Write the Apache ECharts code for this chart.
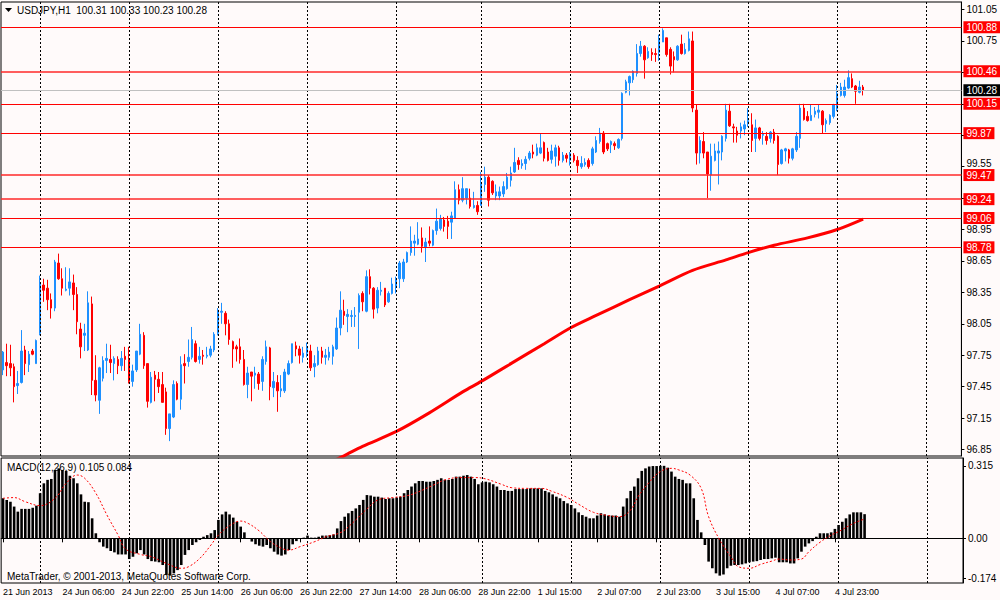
<!DOCTYPE html>
<html><head><meta charset="utf-8">
<script src="https://cdn.jsdelivr.net/npm/echarts@6/dist/echarts.min.js"></script>
<style>html,body{margin:0;padding:0;background:#FFFAFA}#c{width:1000px;height:600px}</style>
</head><body><div id="c"></div>
<script>
const FONT = '"Liberation Sans", Arial, sans-serif';
const symbolTitle = 'USDJPY,H1  100.31 100.33 100.23 100.28';
const macdTitle = 'MACD(12,26,9) 0.105 0.084';
const copyright = 'MetaTrader, \u00A9 2001-2013, MetaQuotes Software Corp.';

const open = [97.61,97.68,97.67,97.64,97.46,97.49,97.80,97.66,97.79,97.67,
97.96,98.42,98.39,98.28,98.20,98.63,98.48,98.37,98.39,98.44,
98.33,98.00,97.94,97.80,98.24,97.51,97.32,97.53,97.70,97.71,
97.67,97.71,97.65,97.74,97.71,97.50,97.61,97.76,97.94,97.67,
97.30,97.56,97.52,97.47,97.40,97.05,97.16,97.48,97.33,97.67,
97.69,97.73,97.86,97.71,97.75,97.74,97.75,97.80,97.96,98.16,
98.15,98.05,97.88,97.83,97.83,97.71,97.47,97.59,97.56,97.57,
97.50,97.69,97.82,97.44,97.49,97.41,97.41,97.57,97.68,97.84,
97.81,97.73,97.77,97.79,97.64,97.66,97.79,97.73,97.73,97.74,
97.81,98.01,98.17,98.12,98.12,98.12,98.16,98.34,98.17,98.50,
98.39,98.20,98.36,98.39,98.26,98.34,98.41,98.48,98.48,98.64,
98.73,98.82,98.81,98.87,98.78,98.84,98.80,98.94,98.96,99.04,
99.03,99.02,99.06,99.33,99.23,99.25,99.25,99.16,99.18,99.18,
99.38,99.45,99.41,99.27,99.27,99.29,99.34,99.42,99.50,99.61,
99.56,99.58,99.63,99.69,99.66,99.68,99.78,99.69,99.62,99.65,
99.73,99.61,99.66,99.61,99.66,99.61,99.55,99.57,99.61,99.58,
99.69,99.79,99.87,99.77,99.76,99.77,99.73,99.82,100.26,100.35,
100.38,100.44,100.63,100.70,100.59,100.64,100.63,100.64,100.74,100.78,
100.67,100.60,100.57,100.72,100.63,100.66,100.75,100.09,99.68,99.79,
99.69,99.47,99.61,99.68,99.69,99.82,100.08,99.93,99.89,99.89,
99.91,99.96,99.95,99.82,99.92,99.85,99.84,99.82,99.88,99.84,
99.58,99.70,99.71,99.63,99.71,99.82,100.11,100.03,99.99,100.05,
100.07,100.08,99.96,99.97,100.03,100.10,100.23,100.23,100.30,100.39,
100.32,100.26,100.31];

const close = [97.78,97.65,97.63,97.45,97.48,97.79,97.67,97.76,97.76,97.89,
98.43,98.37,98.28,98.20,98.64,98.48,98.39,98.38,98.45,98.33,
98.07,97.83,97.96,98.25,97.51,97.37,97.63,97.70,97.72,97.68,
97.72,97.65,97.72,97.71,97.50,97.60,97.79,97.95,97.65,97.31,
97.54,97.52,97.45,97.30,97.05,97.19,97.47,97.33,97.66,97.65,
97.73,97.90,97.69,97.74,97.74,97.75,97.81,97.95,98.18,98.17,
98.05,97.90,97.81,97.81,97.71,97.47,97.58,97.55,97.58,97.48,
97.71,97.83,97.45,97.50,97.41,97.43,97.59,97.67,97.86,97.81,
97.75,97.77,97.83,97.63,97.67,97.79,97.73,97.75,97.78,97.83,
98.01,98.18,98.13,98.14,98.13,98.13,98.32,98.26,98.50,98.39,
98.19,98.37,98.37,98.23,98.34,98.43,98.48,98.63,98.64,98.73,
98.84,98.84,98.86,98.79,98.83,98.82,98.94,99.03,99.05,98.98,
98.98,99.08,99.33,99.23,99.34,99.34,99.17,99.18,99.12,99.39,
99.45,99.23,99.30,99.31,99.31,99.36,99.45,99.49,99.59,99.57,
99.58,99.62,99.68,99.67,99.73,99.73,99.63,99.61,99.70,99.73,
99.61,99.66,99.63,99.68,99.61,99.56,99.58,99.59,99.55,99.72,
99.80,99.87,99.69,99.72,99.79,99.75,99.81,100.25,100.36,100.41,
100.46,100.63,100.70,100.57,100.65,100.62,100.62,100.76,100.85,100.62,
100.51,100.57,100.70,100.63,100.67,100.77,100.11,99.68,99.80,99.68,
99.48,99.65,99.70,99.70,99.84,100.09,99.94,99.92,99.85,99.93,
99.95,99.99,99.80,99.92,99.82,99.86,99.80,99.88,99.80,99.57,
99.71,99.72,99.63,99.72,99.84,100.11,100.00,99.99,100.04,100.08,
100.09,99.95,99.99,100.04,100.14,100.25,100.31,100.31,100.40,100.31,
100.27,100.31,100.28];

const high = [97.79,97.86,97.85,97.67,97.60,97.99,97.84,97.79,97.81,97.90,
98.51,98.48,98.47,98.34,98.66,98.72,98.58,98.59,98.58,98.52,
98.40,98.06,98.05,98.36,98.31,97.75,97.64,97.74,97.86,97.85,
97.74,97.74,97.79,97.83,97.83,97.66,97.79,98.05,97.97,97.67,
97.59,97.60,97.59,97.59,97.44,97.19,97.51,97.50,97.74,97.76,
97.90,98.02,97.89,97.83,97.80,97.83,97.84,97.97,98.20,98.25,
98.17,98.09,97.89,97.85,97.91,97.80,97.64,97.59,97.64,97.59,
97.74,97.89,97.83,97.59,97.56,97.56,97.62,97.70,97.86,97.88,
97.84,97.83,97.87,97.85,97.75,97.83,97.83,97.81,97.83,97.85,
98.11,98.36,98.28,98.19,98.18,98.21,98.34,98.36,98.56,98.57,
98.40,98.40,98.45,98.39,98.36,98.49,98.50,98.65,98.67,98.74,
98.98,98.90,99.02,98.97,98.87,98.98,98.95,99.15,99.09,99.07,
99.08,99.12,99.41,99.38,99.45,99.34,99.34,99.31,99.22,99.50,
99.55,99.47,99.42,99.38,99.36,99.41,99.49,99.55,99.73,99.64,
99.62,99.65,99.70,99.76,99.77,99.87,99.79,99.73,99.76,99.76,
99.75,99.69,99.68,99.69,99.68,99.65,99.65,99.63,99.63,99.74,
99.84,99.92,99.89,99.78,99.80,99.79,99.82,100.26,100.38,100.42,
100.47,100.72,100.75,100.71,100.69,100.68,100.68,100.81,100.87,100.78,
100.69,100.65,100.71,100.81,100.73,100.84,100.84,100.14,99.84,99.88,
99.69,99.77,99.77,99.79,99.85,100.15,100.15,99.96,99.93,99.97,
99.99,100.11,100.06,100.00,99.93,99.89,99.88,99.89,99.91,99.85,
99.72,99.73,99.72,99.73,99.88,100.15,100.15,100.08,100.14,100.12,
100.14,100.09,100.01,100.05,100.15,100.33,100.35,100.38,100.47,100.44,
100.33,100.37,100.33];

const low = [97.56,97.55,97.55,97.30,97.38,97.48,97.56,97.59,97.75,97.67,
97.94,98.26,98.18,98.10,98.17,98.47,98.32,98.36,98.32,98.18,
97.95,97.72,97.79,97.79,97.37,97.31,97.19,97.50,97.58,97.58,
97.51,97.57,97.60,97.60,97.48,97.45,97.59,97.75,97.62,97.25,
97.29,97.31,97.39,97.30,96.99,96.93,97.15,97.32,97.23,97.48,
97.64,97.71,97.68,97.67,97.66,97.72,97.73,97.78,97.94,98.05,
97.94,97.85,97.63,97.69,97.67,97.46,97.34,97.31,97.43,97.42,
97.41,97.66,97.32,97.35,97.21,97.35,97.39,97.56,97.67,97.74,
97.67,97.68,97.73,97.60,97.54,97.65,97.67,97.66,97.70,97.66,
97.80,97.94,98.04,97.97,98.02,98.02,97.81,98.17,98.16,98.33,
98.10,98.15,98.32,98.21,98.25,98.33,98.34,98.39,98.45,98.63,
98.70,98.70,98.80,98.73,98.64,98.79,98.79,98.90,98.94,98.93,
98.86,98.86,99.06,99.19,99.21,99.19,99.15,99.15,99.09,99.18,
99.31,99.17,99.28,99.23,99.23,99.26,99.33,99.36,99.49,99.52,
99.53,99.52,99.61,99.63,99.65,99.67,99.60,99.60,99.58,99.55,
99.56,99.59,99.59,99.56,99.59,99.49,99.53,99.55,99.53,99.56,
99.68,99.77,99.67,99.70,99.68,99.71,99.72,99.80,100.25,100.23,
100.35,100.41,100.60,100.39,100.58,100.56,100.55,100.56,100.74,100.60,
100.43,100.45,100.56,100.62,100.62,100.65,100.07,99.57,99.58,99.63,
99.25,99.32,99.60,99.38,99.61,99.79,99.93,99.78,99.78,99.82,
99.85,99.93,99.69,99.69,99.80,99.76,99.76,99.78,99.77,99.47,
99.57,99.60,99.58,99.61,99.69,99.73,99.99,99.98,99.99,100.02,
100.01,99.87,99.88,99.95,100.01,100.08,100.22,100.21,100.29,100.30,
100.15,100.25,100.23];

const maPoints = [[86,96.69],[92,96.79],[97,96.88],[106,97.02],[115,97.20],[124,97.40],[129,97.50],
[137,97.67],[146,97.86],[153,98.01],[160,98.13],[169,98.28],[177,98.41],[186,98.56],[195,98.66],
[201,98.73],[208,98.80],[217,98.87],[225,98.95],[232,99.05]];

const macdMain = [0.174,0.167,0.159,0.138,0.116,0.128,0.128,0.128,0.133,0.142,
0.196,0.239,0.254,0.258,0.297,0.304,0.297,0.293,0.272,0.261,
0.239,0.191,0.159,0.157,0.087,0.022,-0.017,-0.036,-0.043,-0.055,
-0.061,-0.070,-0.070,-0.070,-0.090,-0.080,-0.065,-0.051,-0.070,-0.090,
-0.099,-0.101,-0.104,-0.116,-0.159,-0.162,-0.152,-0.138,-0.116,-0.072,
-0.051,-0.029,-0.017,-0.007,0.007,0.014,0.022,0.036,0.080,0.104,
0.116,0.104,0.090,0.072,0.051,0.026,0.000,-0.014,-0.026,-0.032,
-0.036,-0.029,-0.043,-0.058,-0.070,-0.075,-0.070,-0.051,-0.026,-0.012,
-0.003,0.003,0.012,0.003,0.003,0.007,0.012,0.012,0.014,0.017,
0.043,0.075,0.094,0.109,0.119,0.130,0.145,0.167,0.188,0.186,
0.181,0.181,0.177,0.171,0.174,0.174,0.177,0.181,0.196,0.210,
0.225,0.239,0.249,0.249,0.246,0.246,0.249,0.254,0.261,0.254,
0.254,0.258,0.268,0.268,0.272,0.275,0.268,0.258,0.235,0.243,
0.246,0.243,0.235,0.225,0.210,0.210,0.206,0.206,0.214,0.214,
0.214,0.214,0.217,0.217,0.217,0.217,0.206,0.200,0.191,0.181,
0.174,0.162,0.152,0.145,0.130,0.113,0.101,0.094,0.087,0.087,
0.099,0.109,0.104,0.099,0.099,0.099,0.094,0.138,0.174,0.206,
0.225,0.261,0.293,0.304,0.312,0.314,0.314,0.315,0.315,0.307,
0.290,0.268,0.258,0.254,0.239,0.239,0.174,0.080,0.026,-0.029,
-0.101,-0.130,-0.152,-0.162,-0.157,-0.130,-0.119,-0.116,-0.116,-0.113,
-0.109,-0.104,-0.101,-0.099,-0.094,-0.090,-0.090,-0.087,-0.084,-0.104,
-0.104,-0.104,-0.109,-0.109,-0.087,-0.058,-0.036,-0.022,-0.012,0.007,
0.022,0.022,0.022,0.026,0.041,0.058,0.072,0.087,0.104,0.113,
0.113,0.113,0.105];

const macdSignal = [[0,0.174],[3,0.177],[6,0.159],[10,0.142],[14,0.174],[17,0.239],[20,0.275],[22,0.261],
[25,0.196],[28,0.101],[31,0.014],[33,-0.046],[37,-0.070],[40,-0.080],[44,-0.109],[48,-0.130],[50,-0.123],
[53,-0.087],[56,-0.029],[58,0.014],[61,0.055],[64,0.075],[66,0.065],[69,0.032],[72,-0.014],[75,-0.043],
[77,-0.051],[80,-0.036],[84,-0.014],[87,0.007],[91,0.026],[94,0.065],[98,0.128],[101,0.167],[105,0.177],
[109,0.186],[112,0.203],[116,0.232],[119,0.254],[123,0.264],[127,0.264],[130,0.258],[134,0.236],[137,0.220],
[141,0.217],[145,0.217],[148,0.203],[152,0.177],[155,0.148],[159,0.113],[163,0.099],[166,0.094],[169,0.123],
[171,0.181],[174,0.243],[177,0.290],[180,0.304],[182,0.297],[185,0.275],[188,0.217],[190,0.094],[193,-0.007],
[196,-0.080],[198,-0.123],[201,-0.130],[204,-0.113],[207,-0.099],[209,-0.090],[212,-0.094],[215,-0.090],
[217,-0.058],[220,-0.017],[223,0.014],[225,0.029],[229,0.065],[232,0.084]];

const levels = [100.88, 100.46, 100.15, 99.87, 99.47, 99.24, 99.06, 98.78];
const thickLevels = [100.46, 99.47, 99.24];
const currentPrice = 100.28;
const priceTicks = [101.05,100.75,100.45,100.15,99.85,99.55,99.25,98.95,98.65,98.35,98.05,97.75,97.45,97.15,96.85];
const priceLabels = [101.05,100.75,99.55,98.95,98.65,98.35,98.05,97.75,97.45,97.15,96.85];
const raisedLabels = [99.55];
const macdTicks = [0.315, 0, -0.174];
const missingHours = ['2013-06-28 23'];
const TOTAL_SLOTS = 259;
const MONTHS = ['Jan','Feb','Mar','Apr','May','Jun','Jul','Aug','Sep','Oct','Nov','Dec'];

// hourly time slots (trading hours only)
const times = [];
let t = Date.UTC(2013, 5, 21, 14);
while (times.length < TOTAL_SLOTS) {
  const d = new Date(t);
  const wd = d.getUTCDay();
  const key = d.toISOString().slice(0, 10) + ' ' + String(d.getUTCHours()).padStart(2, '0');
  if (wd !== 0 && wd !== 6 && !missingHours.includes(key)) times.push(d);
  t += 3600000;
}
const categories = times.map((d, i) => i === 0
  ? `${d.getUTCDate()} ${MONTHS[d.getUTCMonth()]} ${d.getUTCFullYear()}`
  : `${d.getUTCDate()} ${MONTHS[d.getUTCMonth()]} ${String(d.getUTCHours()).padStart(2, '0')}:00`);
const dayStarts = times.map((d, i) => d.getUTCHours() === 0 ? i : -1).filter(i => i >= 0);
const nBars = open.length;
const showLabel = (i) => i % 16 === 0 && i < nBars;

const candleData = open.map((o, i) => [o, close[i], low[i], high[i]]);

const vLines = dayStarts.map(i => ({
  xAxis: categories[i],
  lineStyle: { color: '#000', width: 1, type: [2, 2] },
  label: { show: false }
}));

const hLines = levels.map(v => {
  const thick = thickLevels.includes(v);
  return {
    yAxis: v,
    lineStyle: { color: thick ? 'rgba(255,40,40,0.75)' : '#FF0000', width: thick ? 2 : 1, type: 'solid' },
    label: {
      show: true, position: 'end', distance: 2, formatter: v.toFixed(2),
      backgroundColor: '#FF0000', color: '#FFFFFF', padding: [1, 3, 0, 3],
      fontSize: 10, lineHeight: 11, fontFamily: FONT
    }
  };
});
hLines.push({
  yAxis: currentPrice,
  lineStyle: { color: '#C0C0C0', width: 1, type: 'solid' },
  label: {
    show: true, position: 'end', distance: 2, formatter: currentPrice.toFixed(2),
    backgroundColor: '#000000', color: '#FFFFFF', padding: [1, 3, 0, 3],
    fontSize: 10, lineHeight: 11, fontFamily: FONT
  }
});

const chart = echarts.init(document.getElementById('c'), null, { renderer: 'svg', width: 1000, height: 600 });

const axisText = { color: '#000', fontSize: 10, fontFamily: FONT };

chart.setOption({
  animation: false,
  backgroundColor: '#FFFAFA',
  grid: [
    { left: 1, top: 2, width: 962, height: 454, show: true, borderColor: '#000', borderWidth: 1, backgroundColor: 'transparent' },
    { left: 1, top: 458, width: 962, height: 125, show: true, borderColor: '#000', borderWidth: 1, backgroundColor: 'transparent' }
  ],
  xAxis: [
    { type: 'category', gridIndex: 0, data: categories, boundaryGap: true,
      axisLine: { show: false }, axisTick: { show: false }, axisLabel: { show: false }, splitLine: { show: false } },
    { type: 'category', gridIndex: 1, data: categories, boundaryGap: true,
      axisLine: { show: true, lineStyle: { color: '#000' } },
      axisTick: { show: true, alignWithLabel: true, interval: (i) => showLabel(i), length: 4, lineStyle: { color: '#000' } },
      axisLabel: { interval: (i) => showLabel(i), align: 'left', margin: 4, color: '#000', fontSize: 9, fontFamily: FONT },
      splitLine: { show: false } }
  ],
  yAxis: [
    { type: 'value', gridIndex: 0, position: 'right', min: 96.788, max: 101.122, scale: true,
      splitLine: { show: false },
      axisLine: { show: true, lineStyle: { color: '#000' } },
      axisTick: { show: true, length: 3, customValues: priceTicks, lineStyle: { color: '#000' } },
      axisLabel: Object.assign({
        customValues: priceLabels,
        formatter: (v) => raisedLabels.includes(Number(v.toFixed(2))) ? '{up|' + v.toFixed(2) + '}' : v.toFixed(2),
        rich: { up: { color: '#000', fontSize: 10, fontFamily: FONT, padding: [0, 0, 6, 0] } },
        margin: 5 }, axisText) },
    { type: 'value', gridIndex: 1, position: 'right', min: -0.194, max: 0.349,
      splitLine: { show: false },
      axisLine: { show: true, lineStyle: { color: '#000' } },
      axisTick: { show: true, length: 3, customValues: macdTicks, lineStyle: { color: '#000' } },
      axisLabel: Object.assign({ customValues: macdTicks, formatter: (v) => v === 0 ? '0.00' : String(v), margin: 5 }, axisText) }
  ],
  graphic: [
    { type: 'polygon', shape: { points: [[5, 8], [12, 8], [8.5, 12]] }, style: { fill: '#000' } },
    { type: 'text', x: 17, y: 10, style: { text: symbolTitle, fill: '#000', fontSize: 10, fontFamily: FONT, verticalAlign: 'middle' } },
    { type: 'text', x: 7, y: 467, style: { text: macdTitle, fill: '#000', fontSize: 10, fontFamily: FONT, verticalAlign: 'middle' } },
    { type: 'text', x: 7, y: 576, style: { text: copyright, fill: '#000', fontSize: 10, fontFamily: FONT, verticalAlign: 'middle' } }
  ],
  series: [
    { type: 'candlestick', name: 'USDJPY', xAxisIndex: 0, yAxisIndex: 0, data: candleData, barWidth: 2,
      itemStyle: { color: '#1E90FF', color0: '#FF0000', borderColor: '#1E90FF', borderColor0: '#FF0000', borderWidth: 1 },
      markLine: { silent: true, symbol: ['none', 'none'], animation: false, data: vLines.concat(hLines) },
      z: 3 },
    { type: 'line', name: 'MA', xAxisIndex: 0, yAxisIndex: 0, data: maPoints, showSymbol: false, smooth: 0.3,
      lineStyle: { color: '#FF0000', width: 3 }, clip: true, z: 4 },
    { type: 'bar', name: 'MACD', xAxisIndex: 1, yAxisIndex: 1, data: macdMain, barWidth: 2.6,
      itemStyle: { color: '#000' },
      markLine: { silent: true, symbol: ['none', 'none'], animation: false, data: vLines } },
    { type: 'line', name: 'Signal', xAxisIndex: 1, yAxisIndex: 1, data: macdSignal, showSymbol: false, smooth: 0.4,
      lineStyle: { color: '#FF0000', width: 1, type: [2, 2] }, z: 5 }
  ]
});
</script>
</body></html>
